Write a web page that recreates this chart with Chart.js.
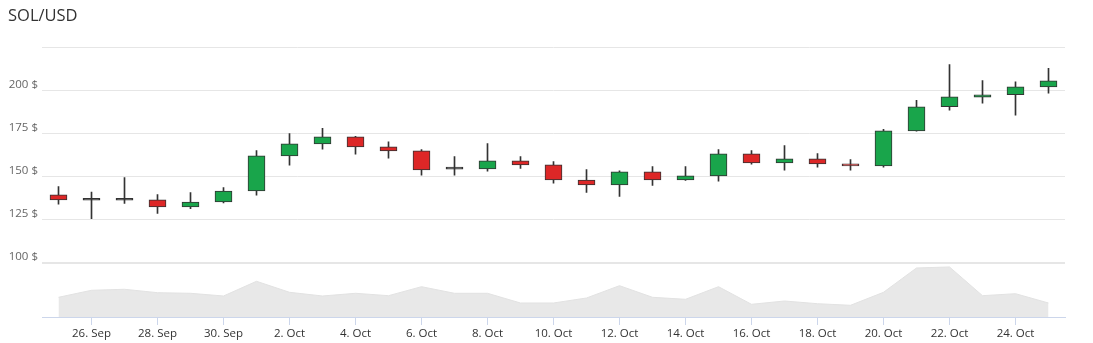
<!DOCTYPE html>
<html>
<head>
<meta charset="utf-8">
<title>SOL/USD</title>
<script src="https://cdn.jsdelivr.net/npm/chart.js@4.4.1/dist/chart.umd.min.js"></script>
<style>
    html, body { margin: 0; padding: 0; background: #fff; }
    #wrap { width: 1093px; height: 343px; position: relative; }
</style>
</head>
<body>
<div id="wrap"><canvas id="solChart"></canvas></div>
<script>
// daily candles, 25 Sep - 25 Oct
const days = ['25. Sep', '26. Sep', '27. Sep', '28. Sep', '29. Sep', '30. Sep',
    '1. Oct', '2. Oct', '3. Oct', '4. Oct', '5. Oct', '6. Oct', '7. Oct', '8. Oct',
    '9. Oct', '10. Oct', '11. Oct', '12. Oct', '13. Oct', '14. Oct', '15. Oct',
    '16. Oct', '17. Oct', '18. Oct', '19. Oct', '20. Oct', '21. Oct', '22. Oct',
    '23. Oct', '24. Oct', '25. Oct'];
const opens = [139.4, 136.3, 136.3, 136.5, 132.4, 135.3, 141.7, 162.1, 169.1, 173.2,
    167.4, 165.0, 154.4, 154.5, 159.2, 156.9, 148.1, 145.2, 152.8, 148.1,
    150.5, 163.3, 158.0, 160.4, 157.5, 156.3, 176.7, 190.7, 196.3, 197.7, 202.3];
const highs = [144.2, 141.1, 149.5, 139.6, 140.8, 143.7, 165.2, 175.1, 178.1, 173.5,
    170.3, 165.8, 161.7, 169.3, 161.7, 158.8, 154.2, 153.4, 155.9, 155.9,
    165.8, 165.2, 168.1, 163.5, 160.0, 177.5, 194.4, 215.3, 206.0, 205.2, 213.0];
const lows = [134.0, 125.6, 134.5, 128.7, 131.4, 134.7, 139.2, 156.7, 166.0, 163.1,
    160.8, 150.9, 150.9, 153.2, 154.9, 146.2, 140.9, 138.6, 145.0, 147.9,
    147.4, 157.3, 153.8, 155.5, 153.8, 155.5, 176.5, 188.7, 192.8, 185.8, 198.6];
const closes = [136.5, 136.3, 136.3, 132.4, 135.3, 141.7, 162.1, 169.1, 173.2, 167.4,
    165.0, 154.0, 154.4, 159.2, 156.9, 148.1, 145.2, 152.8, 148.1, 150.5,
    163.3, 158.0, 160.4, 157.5, 156.3, 176.7, 190.7, 196.5, 197.7, 202.3, 205.8];
// volume, million USD
const volumes = [1970, 2670, 2770, 2430, 2370, 2100, 3570, 2470, 2100, 2370,
    2130, 3030, 2370, 2370, 1400, 1400, 1900, 3130, 1970, 1770,
    3030, 1270, 1600, 1330, 1170, 2470, 4900, 5000, 2130, 2330, 1400];
const priceTicks = [100, 125, 150, 175, 200];

const UP = '#19a54b';
const DOWN = '#dd2727';
const EDGE = '#333333';

const wicks = days.map((d, i) => ({ x: i, y: [lows[i], highs[i]] }));
const bodies = days.map((d, i) => ({ x: i, y: [opens[i], closes[i]] }));
const bodyColors = days.map((d, i) => closes[i] > opens[i] ? UP : (closes[i] < opens[i] ? DOWN : EDGE));
const volumePoints = days.map((d, i) => ({ x: i, y: volumes[i] }));

const ctx = document.getElementById('solChart').getContext('2d');
new Chart(ctx, {
    type: 'bar',
    data: {
        datasets: [{
            label: 'Body',
            data: bodies,
            backgroundColor: bodyColors,
            borderColor: EDGE,
            borderWidth: 1,
            borderSkipped: false,
            barThickness: 17,
            minBarLength: 2,
            grouped: false,
            order: 1
        }, {
            label: 'Wick',
            data: wicks,
            backgroundColor: EDGE,
            borderWidth: 0,
            barThickness: 1,
            grouped: false,
            order: 2
        }, {
            type: 'line',
            label: 'Volume',
            data: volumePoints,
            yAxisID: 'yVol',
            fill: 'origin',
            backgroundColor: '#e8e8e8',
            borderColor: '#e2e2e2',
            borderWidth: 1,
            pointRadius: 0,
            tension: 0,
            order: 3
        }]
    },
    options: {
        responsive: true,
        maintainAspectRatio: false,
        animation: false,
        layout: { padding: { left: 8, right: 28, top: 0, bottom: 0 } },
        plugins: {
            legend: { display: false },
            tooltip: { enabled: false },
            title: {
                display: true,
                text: 'SOL/USD',
                align: 'start',
                color: '#333333',
                font: { family: 'Open Sans', size: 16.5, weight: 'normal' },
                padding: { top: 6, bottom: 22 }
            }
        },
        scales: {
            x: {
                type: 'linear',
                min: -0.5,
                max: 30.5,
                offset: false,
                afterBuildTicks: function (scale) {
                    scale.ticks = days.map((d, i) => ({ value: i })).filter(t => t.value % 2 === 1);
                },
                afterFit: function (scale) { scale.height = 26; },
                ticks: {
                    color: '#333333',
                    font: { family: 'Open Sans', size: 11.5 },
                    padding: 2,
                    maxRotation: 0,
                    autoSkip: false,
                    callback: function (value) { return days[value]; }
                },
                grid: {
                    offset: false,
                    drawOnChartArea: false,
                    color: '#ccd6eb',
                    tickLength: 8
                },
                border: { color: '#ccd6eb' }
            },
            y: {
                min: 68.4,
                max: 225,
                afterBuildTicks: function (scale) {
                    scale.ticks = priceTicks.concat([225]).map(v => ({ value: v }));
                },
                afterFit: function (scale) { scale.width = 34; },
                ticks: {
                    color: '#666666',
                    font: { family: 'Open Sans', size: 11.5 },
                    padding: 4,
                    labelOffset: -6,
                    callback: function (value) {
                        return priceTicks.includes(value) ? value + ' $' : '';
                    }
                },
                grid: {
                    drawTicks: false,
                    color: '#e6e6e6',
                    lineWidth: function (c) { return c.tick && c.tick.value === 100 ? 2 : 1; }
                },
                border: { display: false }
            },
            yVol: {
                display: false,
                min: 0,
                max: 26900
            }
        }
    }
});
</script>
</body>
</html>
